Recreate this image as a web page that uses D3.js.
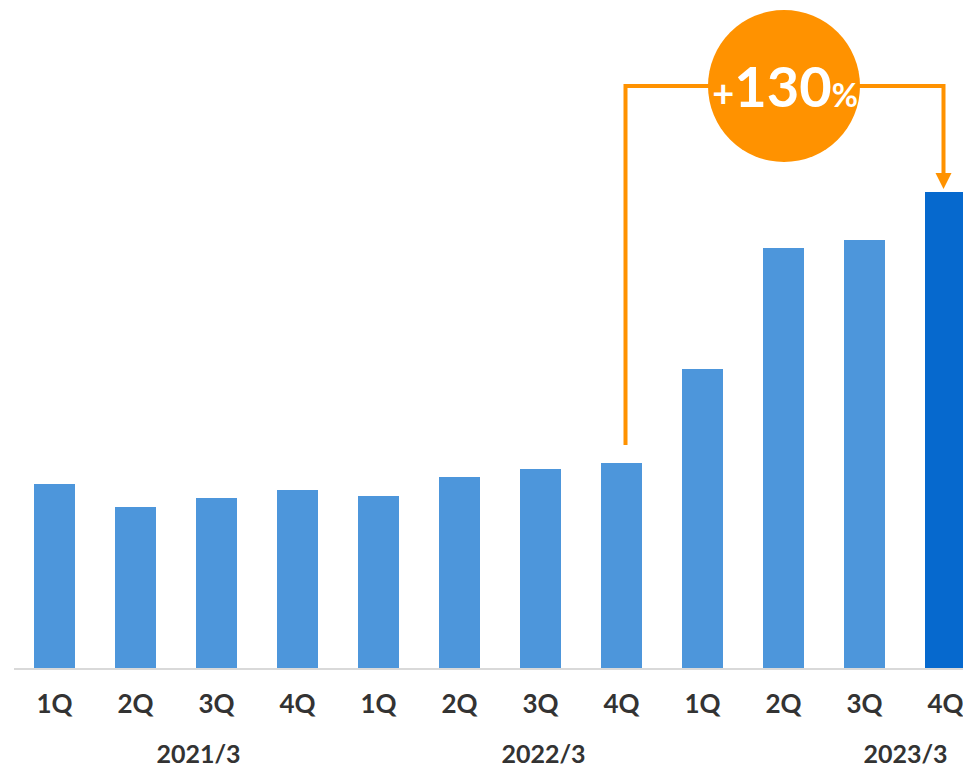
<!DOCTYPE html>
<html>
<head>
<meta charset="utf-8">
<script src="https://cdn.jsdelivr.net/npm/d3@7"></script>
<style>
  body { margin: 0; background: #fff; }
  svg { display: block; font-family: Lato, "Open Sans", sans-serif; }
</style>
</head>
<body>
<div id="chart"></div>
<script>
// quarterly values (relative units)
const quarters = ["1Q", "2Q", "3Q", "4Q", "1Q", "2Q", "3Q", "4Q", "1Q", "2Q", "3Q", "4Q"];
const values = [184, 161, 170, 178, 172, 191, 199, 205, 299, 420, 428, 476];
const years = ["2021/3", "2022/3", "2023/3"];
const growthLabel = ["+", "130", "%"];

const width = 963, height = 768;
const baseY = 668;

const svg = d3.select("#chart")
  .append("svg")
  .attr("width", width)
  .attr("height", height);

const ids = d3.range(quarters.length);

const x = d3.scaleBand()
  .domain(ids)
  .range([14, 986])
  .paddingInner(40 / 81)
  .paddingOuter(20 / 81);

const y = d3.scaleLinear()
  .domain([0, 500])
  .range([baseY, baseY - 500]);

// bars
svg.append("g")
  .selectAll("rect")
  .data(values)
  .join("rect")
  .attr("x", (d, i) => x(i))
  .attr("y", d => y(d))
  .attr("width", x.bandwidth())
  .attr("height", d => y(0) - y(d))
  .attr("fill", (d, i) => i === values.length - 1 ? "#0669ce" : "#4d96db");

// baseline
svg.append("line")
  .attr("x1", 14)
  .attr("x2", width)
  .attr("y1", baseY + 1)
  .attr("y2", baseY + 1)
  .attr("stroke", "#d9d9d9")
  .attr("stroke-width", 2);

// quarter labels
svg.append("g")
  .attr("font-size", 26)
  .attr("font-weight", "bold")
  .attr("fill", "#333")
  .attr("text-anchor", "middle")
  .selectAll("text")
  .data(quarters)
  .join("text")
  .attr("x", (d, i) => x(i) + x.bandwidth() / 2)
  .attr("y", 713)
  .text(d => d);

// fiscal year labels, placed under a quarter with a nudge
const yearAt = [[2, -18], [6, 3], [11, -40]];
svg.append("g")
  .attr("font-size", 25)
  .attr("font-weight", "bold")
  .attr("fill", "#333")
  .attr("text-anchor", "middle")
  .selectAll("text")
  .data(years)
  .join("text")
  .attr("x", (d, i) => x(yearAt[i][0]) + x.bandwidth() / 2 + yearAt[i][1])
  .attr("y", 763)
  .text(d => d);

// growth bracket from 4Q 2022/3 to 4Q 2023/3
const orange = "#ff9200";
const from = 7, to = 11;
const xa = x(from) + x.bandwidth() / 2 + 4;
const xb = x(to) + x.bandwidth() / 2 - 2;
const topY = 86;

svg.append("path")
  .attr("d", `M${xa},${y(values[from]) - 18} V${topY} H${xb} V${y(values[to]) - 18}`)
  .attr("fill", "none")
  .attr("stroke", orange)
  .attr("stroke-width", 4);

svg.append("path")
  .attr("d", `M${xb - 8},${y(values[to]) - 19} L${xb + 8},${y(values[to]) - 19} L${xb},${y(values[to]) - 3} Z`)
  .attr("fill", orange);

const cx = 784;
svg.append("circle")
  .attr("cx", cx)
  .attr("cy", topY)
  .attr("r", 76)
  .attr("fill", orange);

const label = svg.append("text")
  .attr("x", cx + 1)
  .attr("y", 107)
  .attr("text-anchor", "middle")
  .attr("fill", "#fff")
  .attr("font-weight", "bold");

label.selectAll("tspan")
  .data(growthLabel)
  .join("tspan")
  .attr("font-size", (d, i) => i === 1 ? 56 : (i === 0 ? 38 : 32))
  .text(d => d);
</script>
</body>
</html>
